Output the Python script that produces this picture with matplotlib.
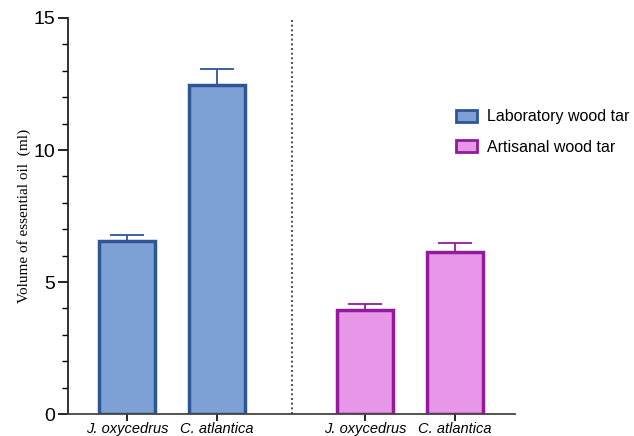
import matplotlib
matplotlib.use("Agg")
import matplotlib.pyplot as plt
from matplotlib.patches import Patch
from matplotlib.ticker import MultipleLocator

categories = ["J. oxycedrus", "C. atlantica", "J. oxycedrus", "C. atlantica"]
groups = ["Laboratory wood tar", "Laboratory wood tar", "Artisanal wood tar", "Artisanal wood tar"]
values = [6.55, 12.45, 3.95, 6.15]
errors = [0.22, 0.62, 0.22, 0.33]
positions = [1, 2, 3.644, 4.644]

fill = {"Laboratory wood tar": "#7DA1D4", "Artisanal wood tar": "#E896E8"}
edge = {"Laboratory wood tar": "#2F5597", "Artisanal wood tar": "#931A9A"}

fig = plt.figure(figsize=(6.34, 4.36), dpi=100)
ax = fig.add_axes([68/634, 22/436, (515-68)/634, (414-18)/436])

for x, v, e, g in zip(positions, values, errors, groups):
    ax.bar(x, v, width=0.63, color=fill[g], edgecolor=edge[g], linewidth=2.5, zorder=2)
    ax.errorbar(x, v, yerr=[[0], [e]], ecolor=edge[g], elinewidth=1.3,
                capsize=12, capthick=1.3, fmt="none", zorder=3)

ax.axvline(2.83, color="#333333", linestyle=(0, (1.2, 1.6)), linewidth=1.2, zorder=1)

ax.set_xlim(0.344, 5.31)
ax.set_ylim(0, 15)
ax.spines["top"].set_visible(False)
ax.spines["right"].set_visible(False)
ax.spines["left"].set_linewidth(1.3)
ax.spines["bottom"].set_linewidth(1.3)
ax.spines["left"].set_color("#222222")
ax.spines["bottom"].set_color("#444444")

ax.yaxis.set_major_locator(MultipleLocator(5))
ax.yaxis.set_minor_locator(MultipleLocator(1))
ax.tick_params(axis="y", which="major", length=7, width=1.2, labelsize=14, pad=2)
ax.tick_params(axis="y", which="minor", length=4, width=1.0)
ax.tick_params(axis="x", which="major", length=5, width=1.2, pad=1)
for lab in ax.get_yticklabels():
    lab.set_fontfamily("Liberation Sans")

ax.set_xticks(positions)
ax.set_xticklabels(categories, fontfamily="Liberation Sans", fontstyle="italic", fontsize=10.5)

ax.set_ylabel("Volume of essential oil  (ml)", fontfamily="Liberation Serif", fontsize=11, labelpad=2)

handles = [Patch(facecolor=fill[g], edgecolor=edge[g], linewidth=2.0, label=g)
           for g in ["Laboratory wood tar", "Artisanal wood tar"]]
fig.legend(handles=handles, loc="upper left", bbox_to_anchor=(442/634, 1 - 95/436),
           frameon=False, prop={"family": "Liberation Sans", "size": 11.5},
           handlelength=1.3, handleheight=0.8, handletextpad=0.6, labelspacing=0.95)

fig.savefig("out.png", dpi=100)
